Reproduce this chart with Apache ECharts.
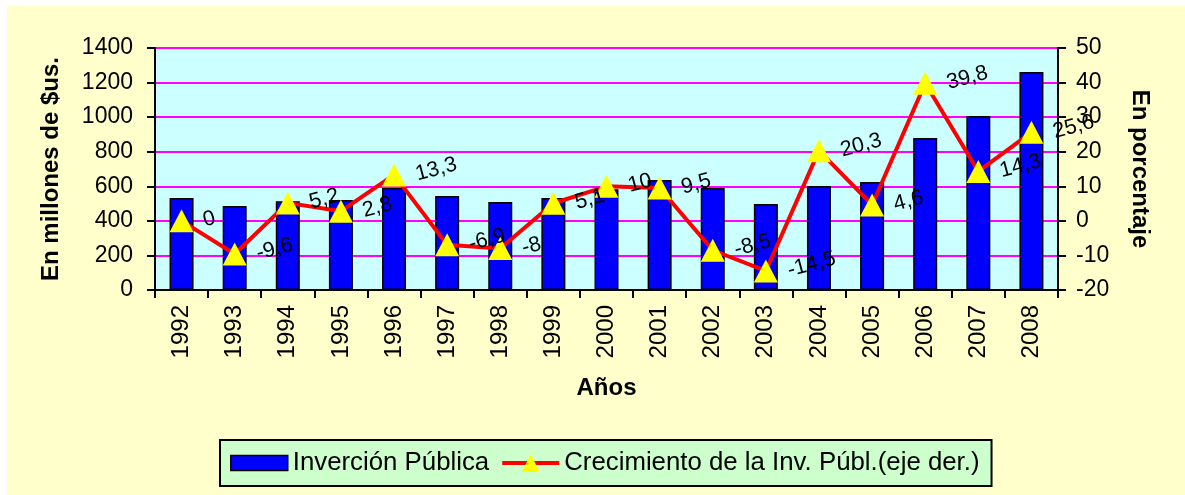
<!DOCTYPE html>
<html>
<head>
<meta charset="utf-8">
<script src="https://cdn.jsdelivr.net/npm/echarts@6/dist/echarts.min.js"></script>
<style>
html,body{margin:0;padding:0;background:#fff;width:1185px;height:495px;overflow:hidden;}
#c{position:absolute;left:7px;top:6px;width:1178px;height:489px;background:#FFFFCC;}
</style>
</head>
<body>
<div id="c"></div>
<script>
const years = ['1992','1993','1994','1995','1996','1997','1998','1999','2000','2001','2002','2003','2004','2005','2006','2007','2008'];
const inversion = [532, 486, 513, 521, 590, 544, 509, 532, 583, 636, 590, 497, 602, 625, 879, 1007, 1261];
const crecimiento = [0, -9.6, 5.2, 2.8, 13.3, -6.9, -8, 5.1, 10, 9.5, -8.5, -14.5, 20.3, 4.6, 39.8, 14.3, 25.6];
const seriesNames = ['Inverción Pública', 'Crecimiento de la Inv. Públ.(eje der.)'];
const leftAxisName = 'En millones de $us.';
const rightAxisName = 'En porcentaje';
const xAxisName = 'Años';

const chart = echarts.init(document.getElementById('c'), null, {renderer: 'canvas'});
const FONT = 'Arial, "Liberation Sans", sans-serif';
chart.setOption({
  animation: false,
  textStyle: {fontFamily: FONT, color: '#000'},
  grid: {
    left: 148, top: 42, right: 127, bottom: 205,
    show: true, backgroundColor: '#CCFFFF', borderColor: '#808080', borderWidth: 2
  },
  legend: {
    left: 213, top: 434,
    padding: [10, 12, 10, 10],
    itemGap: 11,
    itemWidth: 57, itemHeight: 22,
    symbolKeepAspect: true,
    backgroundColor: '#CCFFCC', borderColor: '#000', borderWidth: 2,
    textStyle: {fontSize: 25.8, color: '#000', fontFamily: FONT},
    data: [
      {name: seriesNames[0], icon: 'path://M0,0H57V15H0Z', itemStyle: {color: '#0000FF', borderColor: '#000', borderWidth: 1.5}},
      {name: seriesNames[1], lineStyle: {color: '#FF0000', width: 4}, itemStyle: {color: '#FFFF00'}}
    ]
  },
  xAxis: {
    type: 'category',
    data: years,
    name: xAxisName,
    nameLocation: 'middle',
    nameGap: 86,
    nameTextStyle: {fontSize: 24, fontWeight: 'bold', color: '#000'},
    axisLine: {lineStyle: {color: '#000', width: 2}},
    axisTick: {show: true, length: 8, lineStyle: {color: '#000', width: 2}, alignWithLabel: false},
    axisLabel: {rotate: 90, fontSize: 24, color: '#000', margin: 15, interval: 0}
  },
  yAxis: [
    {
      type: 'value', min: 0, max: 1400, interval: 200,
      name: leftAxisName, nameLocation: 'middle', nameGap: 92,
      nameTextStyle: {fontSize: 24, fontWeight: 'bold', color: '#000'},
      axisLine: {show: true, lineStyle: {color: '#000', width: 2}},
      axisTick: {show: true, length: 8, lineStyle: {color: '#000', width: 2}},
      axisLabel: {fontSize: 23, color: '#000', margin: 22, formatter: v => String(v)},
      splitLine: {show: true, lineStyle: {color: '#FF00FF', width: 2}}
    },
    {
      type: 'value', min: -20, max: 50, interval: 10,
      name: rightAxisName, nameLocation: 'middle', nameGap: 70, nameRotate: -90,
      nameTextStyle: {fontSize: 24, fontWeight: 'bold', color: '#000'},
      axisLine: {show: true, lineStyle: {color: '#000', width: 2}},
      axisTick: {show: true, length: 8, lineStyle: {color: '#000', width: 2}},
      axisLabel: {fontSize: 23, color: '#000', margin: 18, formatter: v => String(v)},
      splitLine: {show: false}
    }
  ],
  series: [
    {
      name: seriesNames[0], type: 'bar', yAxisIndex: 0,
      data: inversion, barWidth: 24,
      itemStyle: {color: '#0000FF', borderColor: '#000', borderWidth: 1.5}
    },
    {
      name: seriesNames[1], type: 'line', yAxisIndex: 1,
      data: crecimiento,
      lineStyle: {color: '#FF0000', width: 4},
      itemStyle: {color: '#FFFF00', borderWidth: 0},
      symbol: 'triangle', symbolSize: [24, 23],
      label: {
        show: true, position: 'right', distance: 10, rotate: 15,
        fontSize: 21.5, color: '#000',
        formatter: p => String(p.value).replace('.', ',')
      },
      z: 5
    }
  ]
});
</script>
</body>
</html>
